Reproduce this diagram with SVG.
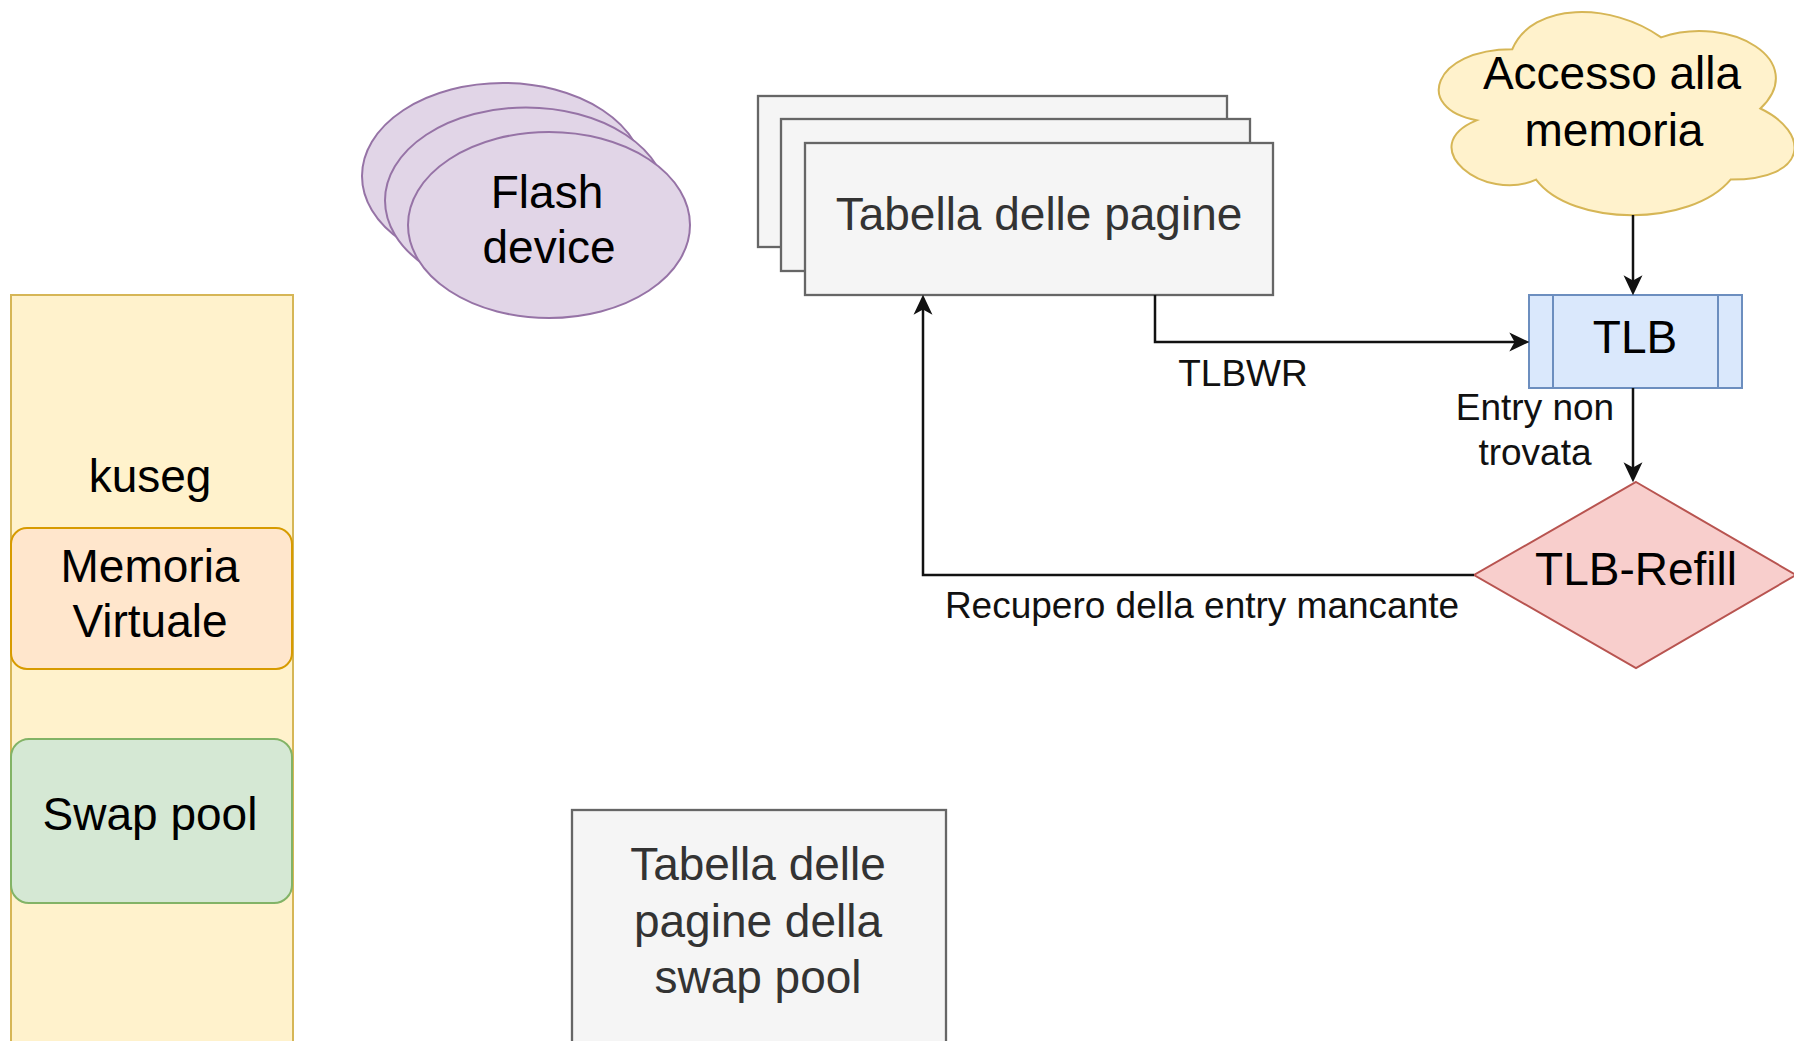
<svg xmlns="http://www.w3.org/2000/svg" width="1794" height="1041" viewBox="0 0 1794 1041">
<defs>
<style>
.lbl{font-family:"Liberation Sans",Arial,Helvetica,sans-serif;font-size:46px;fill:#000;text-anchor:middle}
.elbl{font-family:"Liberation Sans",Arial,Helvetica,sans-serif;font-size:37px;fill:#111;text-anchor:middle}
.gray{fill:#333333}
.conn{fill:none;stroke:#111;stroke-width:2.5}
.tab{fill:#f5f5f5;stroke:#666666;stroke-width:2.3}
.flash{fill:#e1d5e7;stroke:#9673a6;stroke-width:2}
</style>
<marker id="arr" markerUnits="userSpaceOnUse" markerWidth="20" markerHeight="20" refX="13" refY="9" orient="auto" viewBox="0 0 19 18">
<path d="M0,0 L19,9 L0,18 L5,9 Z" fill="#111"/>
</marker>
</defs>
<rect width="1794" height="1041" fill="#ffffff"/>

<g id="kuseg">
<rect x="11" y="295" width="282" height="770" fill="#fff2cc" stroke="#d6b656" stroke-width="2"/>
<text class="lbl" x="150" y="492">kuseg</text>
</g>

<g id="memoria-virtuale">
<rect x="11" y="528" width="281" height="141" rx="16" fill="#ffe6cc" stroke="#d79b00" stroke-width="2"/>
<text class="lbl" x="150" y="582">Memoria</text>
<text class="lbl" x="150" y="637">Virtuale</text>
</g>

<g id="swap-pool">
<rect x="11" y="739" width="281" height="164" rx="18" fill="#d5e8d4" stroke="#82b366" stroke-width="2"/>
<text class="lbl" x="150" y="830">Swap pool</text>
</g>

<g id="flash-device">
<ellipse class="flash" cx="503" cy="176" rx="141" ry="93"/>
<ellipse class="flash" cx="526" cy="200.5" rx="141" ry="93"/>
<ellipse class="flash" cx="549" cy="225" rx="141" ry="93"/>
<text class="lbl" x="547" y="208" fill="#1a1a1a">Flash</text>
<text class="lbl" x="549" y="263" fill="#1a1a1a">device</text>
</g>

<g id="tabella-pagine">
<rect class="tab" x="758" y="96" width="469" height="151"/>
<rect class="tab" x="781" y="119" width="469" height="152"/>
<rect class="tab" x="805" y="143" width="468" height="152"/>
<text class="lbl gray" x="1039" y="230">Tabella delle pagine</text>
</g>

<g id="tabella-swap">
<rect class="tab" x="572" y="810" width="374" height="260"/>
<text class="lbl gray" x="758" y="880">Tabella delle</text>
<text class="lbl gray" x="758" y="937">pagine della</text>
<text class="lbl gray" x="758" y="993">swap pool</text>
</g>

<g id="accesso-memoria">
<path transform="translate(1413,-10) scale(397,237)" vector-effect="non-scaling-stroke" d="M0.25,0.25 C0.05,0.25 0,0.5 0.16,0.55 C0,0.66 0.18,0.9 0.31,0.8 C0.4,1 0.7,1 0.8,0.8 C1,0.8 1,0.6 0.875,0.5 C1,0.3 0.8,0.1 0.625,0.2 C0.5,0.05 0.3,0.05 0.25,0.25 Z" fill="#fff2cc" stroke="#d6b656" stroke-width="2"/>
<text class="lbl" x="1612" y="89">Accesso alla</text>
<text class="lbl" x="1614" y="146">memoria</text>
</g>

<g id="tlb">
<rect x="1529" y="295" width="213" height="93" fill="#dae8fc" stroke="#6c8ebf" stroke-width="2"/>
<line x1="1553" y1="295" x2="1553" y2="388" stroke="#6c8ebf" stroke-width="2"/>
<line x1="1718" y1="295" x2="1718" y2="388" stroke="#6c8ebf" stroke-width="2"/>
<text class="lbl" x="1635" y="353">TLB</text>
</g>

<g id="tlb-refill">
<polygon points="1636,482 1796,575 1636,668 1474,575" fill="#f8cecc" stroke="#b85450" stroke-width="2"/>
<text class="lbl" x="1636" y="585">TLB-Refill</text>
</g>

<g id="connectors">
<path class="conn" d="M1633,215 L1633,289" marker-end="url(#arr)"/>
<path class="conn" d="M1633,388 L1633,476" marker-end="url(#arr)"/>
<path class="conn" d="M1155,295 L1155,342 L1523,342" marker-end="url(#arr)"/>
<path class="conn" d="M1474,575 L923,575 L923,301" marker-end="url(#arr)"/>
<text class="elbl" x="1243" y="386">TLBWR</text>
<text class="elbl" x="1535" y="420">Entry non</text>
<text class="elbl" x="1535" y="465">trovata</text>
<text class="elbl" x="1202" y="618">Recupero della entry mancante</text>
</g>
</svg>
